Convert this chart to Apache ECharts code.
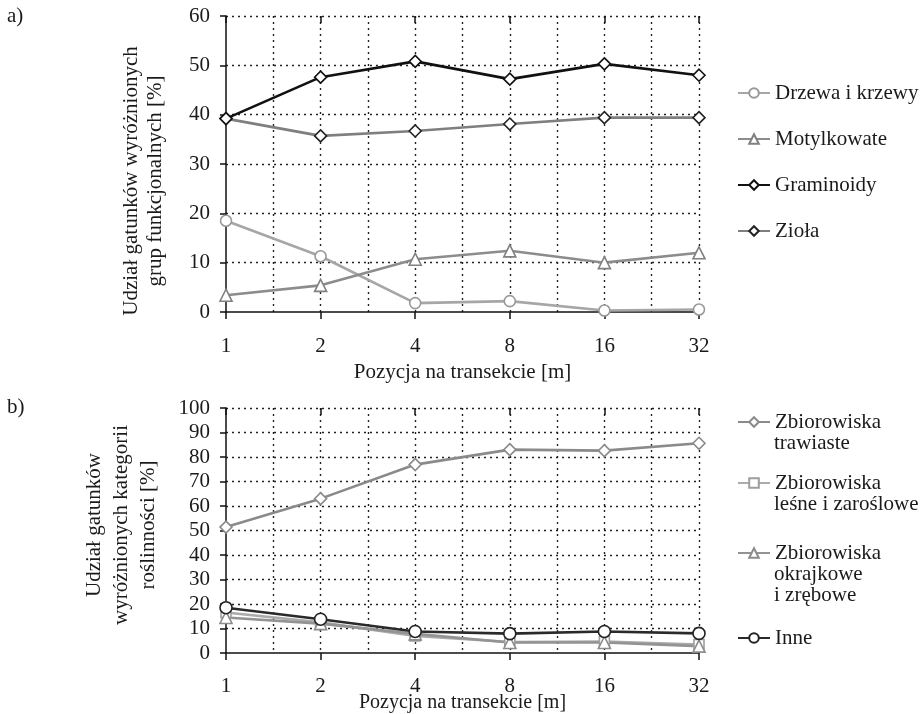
<!DOCTYPE html>
<html>
<head>
<meta charset="utf-8">
<script src="https://cdn.jsdelivr.net/npm/echarts@6/dist/echarts.min.js"></script>
<style>
	html, body { margin: 0; padding: 0; background: #fff; }
	#chart { width: 923px; height: 714px; }
</style>
</head>
<body>
<div id="chart"></div>
<script>
// pozycje na transekcie [m]
const categories = ["1", "2", "4", "8", "16", "32"];

// a) grupy funkcjonalne [%]
const drzewa = [18.5, 11.3, 1.8, 2.2, 0.3, 0.5];
const motylkowate = [3.4, 5.4, 10.7, 12.4, 10.0, 12.0];
const graminoidy = [39.2, 47.6, 50.8, 47.2, 50.3, 48.0];
const ziola = [39.2, 35.7, 36.7, 38.1, 39.4, 39.4];

// b) kategorie roślinności [%]
const trawiaste = [51.4, 63.0, 76.9, 83.0, 82.6, 85.6];
const lesne = [16.5, 12.5, 7.0, 4.5, 4.7, 3.5];
const okrajkowe = [14.5, 12.0, 7.8, 4.3, 4.3, 2.8];
const inne = [18.5, 13.8, 8.8, 7.9, 8.8, 8.0];

const FONT = "Liberation Serif";
const FS = 21;
const TXT = "#1a1a1a";
const DOT = { color: "#222", width: 1.4, type: [2, 4] };

// osie X dla jednej siatki
function axesFor(grid, margin, gap, nameSize) {
	return [
		{
			type: "category", gridIndex: grid, data: categories, boundaryGap: false,
			axisLine: { lineStyle: { color: "#111", width: 1.5 } },
			axisTick: { alignWithLabel: true, length: 7, lineStyle: { color: "#111", width: 1.5 } },
			axisLabel: { margin: margin, fontFamily: FONT, fontSize: FS, color: TXT },
			name: "Pozycja na transekcie [m]", nameLocation: "middle", nameGap: gap,
			nameMoveOverlap: false,
			nameTextStyle: { fontFamily: FONT, fontSize: nameSize, color: TXT },
			splitLine: { show: false }, z: 5
		},
		{
			type: "value", gridIndex: grid, min: 0, max: 5, interval: 0.5,
			axisLine: { show: false }, axisTick: { show: false }, axisLabel: { show: false },
			splitLine: { show: true, showMinLine: false, lineStyle: DOT }
		},
		{
			type: "category", gridIndex: grid, data: categories, boundaryGap: false,
			axisLine: { show: false }, axisLabel: { show: false },
			axisTick: { inside: true, length: 7, lineStyle: { color: "#111", width: 1.5 } },
			splitLine: { show: false }, z: 5
		}
	];
}

function yAxisFor(grid, max) {
	return {
		type: "value", gridIndex: grid, min: 0, max: max, interval: 10,
		axisLine: { show: true, lineStyle: { color: "#111", width: 1.5 } },
		axisTick: { show: true, length: 6, lineStyle: { color: "#111", width: 1.5 } },
		axisLabel: { margin: 16, fontFamily: FONT, fontSize: FS, color: TXT },
		splitLine: { show: true, showMinLine: false, lineStyle: DOT }, z: 5
	};
}

function line(name, data, xi, yi, color, symbol, border, size) {
	return {
		name: name, type: "line", data: data, xAxisIndex: xi, yAxisIndex: yi,
		symbol: symbol, symbolSize: size, showAllSymbol: true,
		lineStyle: { color: color, width: 2.6 },
		itemStyle: { color: "#fff", borderColor: border, borderWidth: 1.6 },
		emphasis: { disabled: true }, z: 10
	};
}

// legenda: osobny komponent dla każdej pozycji, pierwszy wiersz nazwy
function legendItem(name, center) {
	return {
		data: [name], orient: "vertical", left: 737, padding: 0,
		top: center - 12, itemWidth: 32, itemHeight: 12, itemGap: 0,
		formatter: n => n.split("\n")[0],
		textStyle: { fontFamily: FONT, fontSize: FS, color: TXT, lineHeight: 24 }
	};
}

// kolejne wiersze nazw w legendzie
function legendRest(name, center) {
	return name.split("\n").slice(1).map((t, i) => ({
		type: "text", x: 774, y: center + 21 * (i + 1),
		style: { text: t, font: FS + "px " + FONT, fill: TXT, verticalAlign: "middle" }
	}));
}

const legendNames = [
	["Drzewa i krzewy", 93],
	["Motylkowate", 139],
	["Graminoidy", 185],
	["Zioła", 231],
	["Zbiorowiska\ntrawiaste", 422],
	["Zbiorowiska\nleśne i zaroślowe", 483],
	["Zbiorowiska\nokrajkowe\ni zrębowe", 553],
	["Inne", 638]
];

const chart = echarts.init(document.getElementById("chart"));

const option = {
	animation: false,
	grid: [
		{ left: 226, right: 224, top: 16, bottom: 402, outerBoundsMode: "none" },
		{ left: 226, right: 224, top: 408, bottom: 61, outerBoundsMode: "none" }
	],
	xAxis: axesFor(0, 24, 50, FS).concat(axesFor(1, 23, 40, 20)),
	yAxis: [yAxisFor(0, 60), yAxisFor(1, 100)],
	legend: legendNames.map(l => legendItem(l[0], l[1])),
	series: [
		line("Drzewa i krzewy", drzewa, 0, 0, "#a6a6a6", "circle", "#999", 11),
		line("Motylkowate", motylkowate, 0, 0, "#8c8c8c", "triangle", "#808080", 12),
		line("Zioła", ziola, 0, 0, "#7f7f7f", "diamond", "#222", 12),
		line("Graminoidy", graminoidy, 0, 0, "#111", "diamond", "#111", 12),
		line("Zbiorowiska\ntrawiaste", trawiaste, 3, 1, "#8a8a8a", "diamond", "#8a8a8a", 12),
		line("Zbiorowiska\nleśne i zaroślowe", lesne, 3, 1, "#ababab", "rect", "#9e9e9e", 10),
		line("Zbiorowiska\nokrajkowe\ni zrębowe", okrajkowe, 3, 1, "#939393", "triangle", "#8c8c8c", 12),
		line("Inne", inne, 3, 1, "#2a2a2a", "circle", "#222", 12)
	],
	graphic: [
		{ type: "text", left: 7, top: 6, style: { text: "a)", font: FS + "px " + FONT, fill: TXT } },
		{ type: "text", left: 7, top: 397, style: { text: "b)", font: FS + "px " + FONT, fill: TXT } },
		{
			type: "text", x: 143, y: 181, rotation: Math.PI / 2,
			style: {
				text: "Udział gatunków wyróżnionych\ngrup funkcjonalnych [%]",
				font: FS + "px " + FONT, fill: TXT, align: "center", verticalAlign: "middle", lineHeight: 24
			}
		},
		{
			type: "text", x: 121, y: 525, rotation: Math.PI / 2,
			style: {
				text: "Udział gatunków\nwyróżnionych kategorii\nroślinności [%]",
				font: FS + "px " + FONT, fill: TXT, align: "center", verticalAlign: "middle", lineHeight: 27
			}
		}
	].concat(...legendNames.map(l => legendRest(l[0], l[1])))
};

chart.setOption(option);
window.addEventListener("resize", chart.resize);
</script>
</body>
</html>
